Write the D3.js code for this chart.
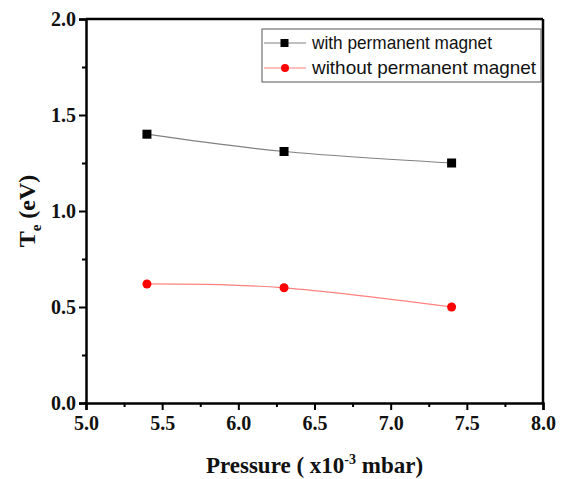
<!DOCTYPE html>
<html>
<head>
<meta charset="utf-8">
<script src="https://cdn.jsdelivr.net/npm/d3@7"></script>
<style>
  body { margin: 0; background: #fff; }
</style>
</head>
<body>
<div id="chart"></div>
<script>
// Data
const pressure = [5.4, 6.3, 7.4];
const withMagnet = [1.40, 1.31, 1.25];
const withoutMagnet = [0.62, 0.60, 0.50];
const seriesNames = ["with permanent magnet", "without permanent magnet"];
const xTicks = [5.0, 5.5, 6.0, 6.5, 7.0, 7.5, 8.0];
const yTicks = [0.0, 0.5, 1.0, 1.5, 2.0];

const width = 563, height = 479;
const margin = { top: 19, right: 20, bottom: 76, left: 86 };
const plotW = 543 - margin.left;
const plotH = 403 - margin.top;
const serif = "Liberation Serif, Times New Roman, serif";

const svg = d3.select("#chart").append("svg")
  .attr("width", width).attr("height", height);

const g = svg.append("g").attr("transform", `translate(${margin.left},${margin.top})`);

const x = d3.scaleLinear().domain([5, 8]).range([0, plotW]);
const y = d3.scaleLinear().domain([0, 2]).range([plotH, 0]);

// minor ticks
g.append("g").attr("transform", `translate(0,${plotH})`)
  .call(d3.axisBottom(x).tickValues(d3.range(5.25, 8, 0.5)).tickSize(4).tickFormat(""))
  .call(s => s.select(".domain").remove())
  .selectAll("line").attr("stroke-width", 2);
g.append("g")
  .call(d3.axisLeft(y).tickValues(d3.range(0.25, 2, 0.5)).tickSize(4).tickFormat(""))
  .call(s => s.select(".domain").remove())
  .selectAll("line").attr("stroke-width", 2);

// major axes
const xAxis = g.append("g").attr("transform", `translate(0,${plotH})`)
  .call(d3.axisBottom(x).tickValues(xTicks).tickSize(7).tickPadding(6).tickFormat(d3.format(".1f")));
const yAxis = g.append("g")
  .call(d3.axisLeft(y).tickValues(yTicks).tickSize(7).tickPadding(3).tickFormat(d3.format(".1f")));
[xAxis, yAxis].forEach(a => {
  a.selectAll("line").attr("stroke-width", 2);
  a.select(".domain").attr("stroke-width", 2.5);
  a.selectAll("text").attr("font-family", serif).attr("font-weight", "bold")
    .attr("font-size", 20).attr("fill", "#111");
});

// frame top & right
g.append("line").attr("x1", 0).attr("x2", plotW).attr("y1", 0).attr("y2", 0)
  .attr("stroke", "#000").attr("stroke-width", 2.5);
g.append("line").attr("x1", plotW).attr("x2", plotW).attr("y1", 0).attr("y2", plotH)
  .attr("stroke", "#000").attr("stroke-width", 2.5);

const line = d3.line().curve(d3.curveNatural)
  .x((d, i) => x(pressure[i])).y(d => y(d));

g.append("path").datum(withMagnet).attr("d", line)
  .attr("fill", "none").attr("stroke", "#808080").attr("stroke-width", 1.2);
g.append("path").datum(withoutMagnet).attr("d", line)
  .attr("fill", "none").attr("stroke", "#ff8080").attr("stroke-width", 1.2);

g.selectAll(".sq").data(withMagnet).join("rect")
  .attr("x", (d, i) => x(pressure[i]) - 4.5).attr("y", d => y(d) - 4.5)
  .attr("width", 9).attr("height", 9).attr("fill", "#000");
g.selectAll(".dot").data(withoutMagnet).join("circle")
  .attr("cx", (d, i) => x(pressure[i])).attr("cy", d => y(d))
  .attr("r", 4.5).attr("fill", "#ff0000");

// legend
const lg = svg.append("g").attr("transform", "translate(262,29)");
lg.append("rect").attr("width", 279).attr("height", 53)
  .attr("fill", "#fff").attr("stroke", "#555").attr("stroke-width", 1);
const legendColors = [["#808080", "#000"], ["#ff8080", "#ff0000"]];
seriesNames.forEach((name, i) => {
  const cy = 14 + i * 25;
  lg.append("line").attr("x1", 2).attr("x2", 44).attr("y1", cy).attr("y2", cy)
    .attr("stroke", legendColors[i][0]).attr("stroke-width", 1.2);
  if (i === 0) {
    lg.append("rect").attr("x", 18.5).attr("y", cy - 4).attr("width", 8).attr("height", 8).attr("fill", "#000");
  } else {
    lg.append("circle").attr("cx", 23).attr("cy", cy).attr("r", 4).attr("fill", legendColors[i][1]);
  }
  lg.append("text").attr("x", 50).attr("y", cy + 6)
    .attr("font-family", "Liberation Sans, Arial, sans-serif").attr("font-size", 18.5)
    .attr("textLength", i === 0 ? 180 : 224).attr("lengthAdjust", "spacingAndGlyphs")
    .attr("fill", "#111").text(name);
});

// axis labels
const xl = svg.append("text").attr("x", 314.5).attr("y", 473).attr("text-anchor", "middle")
  .attr("font-family", serif).attr("font-weight", "bold")
  .attr("font-size", 23).attr("fill", "#111");
xl.append("tspan").text("Pressure ( x10");
xl.append("tspan").attr("dy", -9).attr("font-size", 14).text("-3");
xl.append("tspan").attr("dy", 9).text(" mbar)");

const yl = svg.append("text").attr("transform", "translate(35,211) rotate(-90)")
  .attr("text-anchor", "middle")
  .attr("font-family", serif).attr("font-weight", "bold")
  .attr("font-size", 24).attr("fill", "#111");
yl.append("tspan").text("T");
yl.append("tspan").attr("dy", 6).attr("font-size", 15).text("e");
yl.append("tspan").attr("dy", -6).text(" (eV)");
</script>
</body>
</html>
